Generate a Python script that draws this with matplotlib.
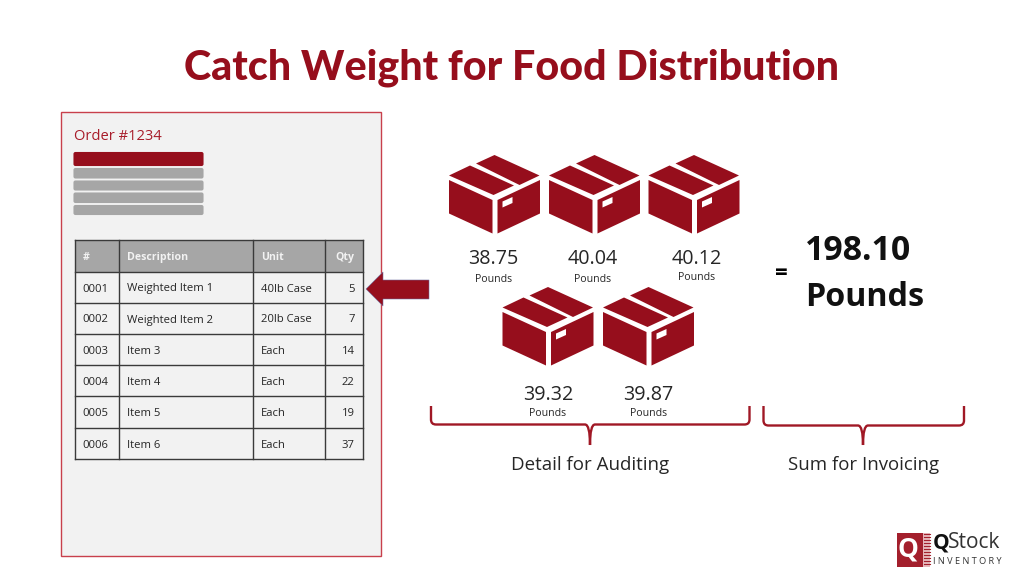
import matplotlib
matplotlib.use("Agg")
import matplotlib.pyplot as plt
from matplotlib.patches import Polygon, Rectangle, FancyBboxPatch
from matplotlib.path import Path
from matplotlib.patches import PathPatch

RED = "#960e1c"
GREY = "#a6a6a6"
INK = "#262626"
FONT = "Open Sans"

title = "Catch Weight for Food Distribution"
order = "Order #1234"
headers = ["#", "Description", "Unit", "Qty"]
ids = ["0001", "0002", "0003", "0004", "0005", "0006"]
descs = ["Weighted Item 1", "Weighted Item 2", "Item 3", "Item 4", "Item 5", "Item 6"]
units = ["40lb Case", "20lb Case", "Each", "Each", "Each", "Each"]
qtys = [5, 7, 14, 22, 19, 37]
weights = ["38.75", "40.04", "40.12", "39.32", "39.87"]
total = "198.10"

fig = plt.figure(figsize=(10.24, 5.77), dpi=100, facecolor="white")
ax = fig.add_axes([0, 0, 1, 1])
ax.set_xlim(0, 1024)
ax.set_ylim(577, 0)
ax.axis("off")

ax.text(511.5, 67.5, title, fontsize=29.7, fontweight="black", color=RED, family="Lato", ha="center", va="center")

# order panel
ax.add_patch(Rectangle((60.5, 112), 320.5, 444, fc="#f2f2f2", ec="#c8404c", lw=1))
ax.text(74.5, 137, order, fontsize=10.6, color="#a81c2a", family=FONT, va="center")
for y0, y1, c in [(152, 166, RED), (168, 178.5, GREY), (180.5, 190.5, GREY), (192.5, 203, GREY), (205, 215, GREY)]:
    ax.add_patch(FancyBboxPatch((74.5, y0 + 1), 128, y1 - y0 - 2, boxstyle="round,pad=0,rounding_size=1",
                                fc=c, ec=c, lw=1.5))

# table
xl = [74.5, 119, 253, 324.5, 362.5]
yl = [239.5, 271.5, 302.5, 333.5, 365, 396, 427.5, 459]
ax.add_patch(Rectangle((xl[0], yl[0]), xl[-1] - xl[0], yl[1] - yl[0], fc=GREY, ec="none"))
for x in xl:
    ax.plot([x, x], [yl[0], yl[-1]], color="#3a3a3a", lw=1)
for y in yl:
    ax.plot([xl[0], xl[-1]], [y, y], color="#3a3a3a", lw=1)
hy = (yl[0] + yl[1]) / 2 + 4.5
FS = 8.1
HFS = 7.6
for i, h in enumerate(headers[:3]):
    ax.text(xl[i] + 8, hy, h, fontsize=HFS, fontweight="bold", color="#f2f2f2", family=FONT, va="baseline")
ax.text(xl[4] - 8, hy, headers[3], fontsize=HFS, fontweight="bold", color="#f2f2f2", family=FONT, va="baseline", ha="right")
for r in range(len(ids)):
    y = (yl[r + 1] + yl[r + 2]) / 2 + 4.5
    ax.text(xl[0] + 8, y, ids[r], fontsize=FS, color=INK, family=FONT, va="baseline")
    ax.text(xl[1] + 8, y, descs[r], fontsize=FS, color=INK, family=FONT, va="baseline")
    ax.text(xl[2] + 8, y, units[r], fontsize=FS, color=INK, family=FONT, va="baseline")
    ax.text(xl[4] - 8, y, str(qtys[r]), fontsize=FS, color=INK, family=FONT, va="baseline", ha="right")

# arrow
ax.add_patch(Polygon([(366, 289), (383, 272), (383, 280), (429, 280), (429, 299), (383, 299), (383, 306)],
                     closed=True, fc=RED, ec="#6f6f9f", lw=0.4))

# boxes
faces = [
    [(0, 20.5), (21, 10.5), (65, 30.5), (44.5, 40)],
    [(27, 8.5), (45.5, 0), (90.5, 20.5), (70.5, 30)],
    [(0, 25), (43.5, 45), (43.5, 78.5), (0, 58.5)],
    [(48.5, 45), (91, 25), (91, 58.5), (48.5, 78.5)],
]
hole = [(53.5, 46.5), (63.5, 42), (63.5, 48), (53.5, 52.5)]


def box(x0, y0):
    for f in faces:
        ax.add_patch(Polygon([(x0 + a, y0 + b) for a, b in f], closed=True, fc=RED, ec="none"))
    ax.add_patch(Polygon([(x0 + a, y0 + b) for a, b in hole], closed=True, fc="white", ec="none"))


box_xy = [(449, 155), (549, 155), (648.5, 155), (502.5, 287), (603, 287)]
num_xy = [(493.5, 259.5), (593, 259.5), (696.5, 258.5), (548, 394.5), (648.5, 394.5)]
lab_xy = [(493.5, 279), (593, 279), (696.5, 278), (547.5, 414), (648.5, 414)]
for (bx, by), w, (nx, ny), (lx, ly) in zip(box_xy, weights, num_xy, lab_xy):
    box(bx, by)
    ax.text(nx, ny, w, fontsize=14.2, color=INK, family=FONT, ha="center", va="center")
    ax.text(lx, ly, "Pounds", fontsize=7.6, color=INK, family=FONT, ha="center", va="center")

# total
ax.text(781.5, 273.5, "=", fontsize=16, fontweight="bold", color="black", family=FONT, ha="center", va="center")
ax.text(805, 251, total, fontsize=24.4, fontweight="bold", color="#111111", family=FONT, va="center")
ax.text(805, 297, "Pounds", fontsize=23.2, fontweight="bold", color="#111111", family=FONT, va="center")


# braces
def brace(x0, x1, xm, top, mid, tip):
    r = 5
    v = [(x0, top), (x0, mid - r), (x0, mid), (x0 + r, mid), (xm - r, mid), (xm, mid), (xm, tip),
         (xm, mid), (xm + r, mid), (x1 - r, mid), (x1, mid), (x1, mid - r), (x1, top)]
    c = [Path.MOVETO, Path.LINETO, Path.CURVE3, Path.CURVE3, Path.LINETO, Path.CURVE3, Path.CURVE3,
         Path.CURVE3, Path.CURVE3, Path.LINETO, Path.CURVE3, Path.CURVE3, Path.LINETO]
    ax.add_patch(PathPatch(Path(v, c), fc="none", ec="#a01825", lw=1.7))


brace(431, 749.5, 590, 406, 424.5, 445)
brace(763.5, 964, 863, 406, 425.5, 445)
ax.text(590, 465, "Detail for Auditing", fontsize=13.5, color=INK, family=FONT, ha="center", va="center")
ax.text(863, 465, "Sum for Invoicing", fontsize=13.4, color=INK, family=FONT, ha="center", va="center")

# logo
ax.add_patch(Rectangle((897, 533), 26, 34, fc="#a31f2c", ec="none"))
ax.text(908, 549, "Q", fontsize=19, fontweight="bold", color="white", family=FONT, ha="center", va="center")
ax.add_patch(Rectangle((923, 533), 7, 34, fc="#e6b8bc", ec="none"))
for y in range(534, 567, 3):
    ax.plot([923.5, 929.5], [y, y], color="#a31f2c", lw=0.8)
ax.text(933, 543, "Q", fontsize=15, fontweight="bold", color="#111111", family=FONT, va="center")
ax.text(948, 543, "Stock", fontsize=15, color="#333333", family=FONT, va="center")
ax.text(933, 561, "I N V E N T O R Y", fontsize=6.6, color="#333333", family=FONT, va="center")

fig.savefig("out.png", dpi=100)
